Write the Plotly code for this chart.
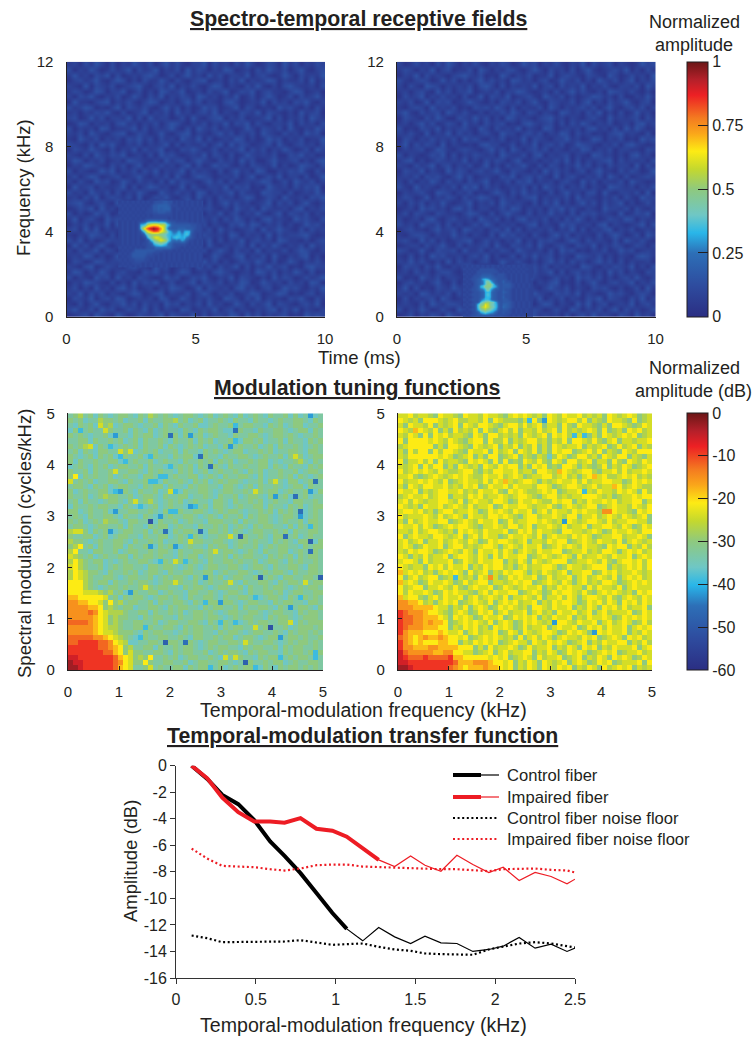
import plotly.graph_objects as go

W, H = 756, 1038
def X(p): return p / W
def Y(p): return 1 - p / H

INK = "#231f20"
FONT = "Liberation Sans"

JET = [[0, "#2b2e83"], [.12, "#2e4b9e"], [.25, "#2d6fb7"], [.33, "#29b6e9"], [.4, "#6fc7c5"],
       [.5, "#8ec97f"], [.58, "#c4d82e"], [.65, "#fdeb14"], [.72, "#faa61a"], [.78, "#f47b20"],
       [.87, "#ed2024"], [.93, "#b5202a"], [1, "#6b1616"]]

# ---- Spectro-temporal receptive fields: background, top row first, digit*0.03 = amplitude
strf_left_bg = [
"231425314132532413524213351423142531243152413243",
"413253124235142351324152431325412314253241352134",
"252314351412324531241352315241332513421253142325",
"134235213541314225314213451231425132354132241513",
"321514324123452134251324213541321425213145322314",
"243125413351241315423512314235124351342213541231",
"314352132412531425132431542313251241353124142352",
"152213451324213541231352413214531232514231435213",
"423541213514324213524131253412351431221534213142",
"231324352141235132415231342513214325143213152341",
"341252413325141523312415213451324122351413241532",
"125413231452313241354213241325143514213325142314",
"413231541223514132352141532413212531432415213253",
"324153213451243125213451321352413241532142315341",
"215324132314352414231532514123254131253413241225",
"432141535213241323514132241351524312341521342314",
"143253214132514235121435312413235142413253124153",
"321415324351231415342123251431412532324114352312",
"254132412315432131524413532142315241135223413145",
"132543214241351324231351412534213143225131254314",
"413212535132414251323514232141352315411324352142",
"241354123412352132415213543123241351242513314125",
"314215341253142314152432135241412323541241532413",
"152341322351413542312514213325143412153231424351",
"423153241413253115324231541323514221543314123252",
"231425134324151243521341523142313541243152231435",
"345213421531232415134253214135242312351424135213",
"124351523143415322413512434213153241532231451324",
"413125341232541351342415213251341325213514324132",
"251342153412325142314213532414253131452321534214",
"132413251543213241532351241321435254132413125342",
"341525132214531324213145324152312341523532141423",
"213254314153242135341221543231541323151423345212",
"425131243312415324153432125141325134231542213134",
"152413521354231241315243415213234151425313241523",
"314235143123541232514132241353142315132241354213",
"232541312541323515423124312531245132415213245131",
"143125423315241431232154352413124325314125313242",
"321451243214532153412331524142351413252341214533",
"254132531342214352313541231453212315424132531412",
"413215341523143212534124352132514321315243124235",
"132543214131524351241235143241325412532314231541",
"241315231452412313254312514323145231341253421325",
"325142413213541245132241353132412354123541213413",
"143251342541232315412531324215431425132214352142",
"214135213352414231534132415231253142351432134251",
"352241534124325141321541232513413213245142513213",
"123415321531243235143225141332541524132341215343",
]
strf_right_bg = [
"312423142531324213243125341324213251423413212534",
"243132513412241531324421353142314135212342513142",
"132514232134532412153132412251343214321531242315",
"421343125241313524231542313412532413153241351324",
"314215431323241453141323251341423251324213324153",
"231342152413351232413354212314135242131543242131",
"142351324231412514325123421532413123542314113252",
"324125143412353213143241352143224135131423521341",
"213431523241214342531413224153132342413521342413",
"352142341532421313242531431321542314251314125231",
"143214253114325241315423213452313213421523234142",
"231352412431523142341214532341414253132412314523",
"412143251323421531423251321541232314523141525312",
"324215132514231342153313424132541423121345232141",
"143132423241534213241225143213352312541324121534",
"251424315132121453312413251342412543213241453212",
"132341254213432135241531342413213254132413322143",
"413212435141324323153224145132341321542313145231",
"245131243232513142431351231324251413234514232314",
"321423513413241251314235214143132524131423315142",
"143251321524313423521432131524231341352214243125",
"232414342135241232143513424215134213241531412343",
"314132531423142351224143513231342152413224153212",
"421523213241535142312324141532413241321543231324",
"132342154313241213531425232141352314415213324151",
"243125132431423542142313451323241523213241421533",
"314241325212351324153232141425131352414235131242",
"123153423145241331242541323143524213215332414213",
"241432143221354214135321413252314143423215124351",
"312314521342231532413145232413142531312432541322",
"423153241413124253132312451321534223145132123514",
"134221352341542313425141323241325141324513241232",
"213443132252313214153423142135241322141353124153",
"342152413123451242313251314342135314232141532421",
"123314235214132341521432415213421432513243124313",
"431252143341522413243153223141534121324125341232",
"214131534223134251312414252341321543241313214542",
"325242131514231341253242131352414231352414132231",
"143314252132543213141325342413232154213243251314",
"231423134421352412534213142351413423131524132143",
"412153241332141543212431532124231534241313425213",
"134231352141324213543142313245121413521342351324",
"251412143253241324123531421353241321434213124152",
"323154232414135231412342153214342513212534213431",
"141323415312324142531321425132413214351432142513",
"232141532443121351324413213541321525134123251342",
"413253124215342132412351343124215313241351423124",
"124132431532413215341221542323141342523214315231",
]
# ---- fine patches round the hot spots; base-36 digit/35 = amplitude
spot_left_t0, spot_left_dt = 2.05, 0.1
spot_left_f0, spot_left_df = 2.4, 0.15
spot_left = [
"343434343434345556655343434343434",
"434343434343466777764443434343434",
"343434343434466767774344343434343",
"434343434344455666554343434343434",
"343434343434344444444343434343434",
"434343434344444444434343434343434",
"343434344569aaa9a9865544444343434",
"34343434bcekmnnmkkeb7666666655443",
"34343434ckquxzxuqkc76667776665443",
"343434345bhnqttrnkhca89b8bcb64443",
"3434343445bfhhhhgfdcbabcacda54343",
"34343434345dhkmljgecacdcbc9754343",
"343434343345cfikmkhc9898b96443434",
"3434343434456bdefdb87555554343434",
"434343434345558888886544343434343",
"343434666666665554444343434343434",
"434346666665544434343434343434343",
"343446666654443434343434343434343",
"434344555544343434343434343434343",
"343434444343434343434343434343434",
"434343434343434343434343434343434",
]
spot_right_t0, spot_right_dt = 2.6, 0.1
spot_right_f0, spot_right_df = 0.0, 0.12
spot_right = [
"3434343434343434343434343",
"4343435555554343434343434",
"3434355555555434343434343",
"4343455666654555434343434",
"3434556777765555434343434",
"4345567bcb87655553434343434",
"34345679dgd965575543434343",
"43435679dhhd86566654343434",
"343456bdhhhdb7566654343434",
"43455689cgc966565543434343",
"34345567bcb765576543434343",
"43455567bdb765565543434343",
"34345567bcb765575543434343",
"4345557acca765566543434343",
"343455bfgigfb7566654343434",
"43455cghmkgec8577654343434",
"34345chkmkhfc8587654343434",
"43455bfhjhfdb7566543434343",
"343456acecba75565543434343",
"4345566777665555543434343",
"3434555666655554343434343",
]

# ---- Modulation tuning functions: top row first, digit (base 36) * -3 = dB
mtf_left = [
"ba9bacabcbaabcab9ababcbaabcbacbabcacbabcabbacacbacb",
"abacbb9aabacbbacabbaa9bacbacbbabcabbcabbcbabbaabcab",
"bcabacaa9cbaabcbbacabcabbaccbabbadbaabbcabacbaacbba",
"cabbabb8abbacabcacbabbcabcabaabccbabbcabbaabcbaacab",
"ababcbbacabbcabaacbabacabbacbabbcabbaabcbaababcbbab",
"bbaacabbabacbacabbabcabbacabacbbadcaabacbbacabbcaba",
"aba9bcabacbabacabbacabcbabacbbcaebabbacbacabbabcbab",
"bacabcaabb8abcbabacbbacabbcababcbaacbbabacbbaabcaab",
"abcbacabacbabbacdabbcabaacbabbcabbaabcbabbacabacbaa",
"acabbabbaacdbabbacbabbcabbabacabacbbabaacbcbba9bcab",
"cbabcabacbaabbacabbcdbabacabbabcabbabbaacabcabbcaba",
"abbacabbacbbaabcababbcabacbacbabbabcabacbbabbacbaab",
"abcababbacbabbcaabacbabbaacbabcabbaabcacbbabacabcba",
"8babacbbaabcabbaddcabbabcabacbabaabcbbacabbcaacbaab",
"baabcabacbaabbcabaacabbcabaabbcaabcbacabbabcbaacabb",
"acbabbaacdbabcabbacbadcabbaabcbaabbabcabaacbabbabca",
"abbacba9aabbacbaabcabbaacbbabcabbacbaabcabbacabacbb",
"bacabbcbaabcaaba9bcbabacbabbcaabcabbabacbabbcaabbab",
"cabbabaabbcabcdcbacbabbcadbacaabcbabbaacabbcabacbaa",
"aacbabbacabbaabbabcabdabbaabcbabaabcbbabacababacbab",
"babcabbaabcabbcabcdbabbaabcbabcabbacabaabcbaabbcbab",
"abacbab9aabcaabbacabbacbabbcaaabbacabbaabcbabbacaab",
"baabcbaabbacabbcabaacbabbcabbabacbabcabaabbcacabbab",
"98bacabadcbaabbacabbcabaabbcaabacabcbaabbabacabbaab",
"abbaacbacbaabbcabbaacbabaabcbbaabbcabbabcaabbacbabb",
"9aabcbabbaabcabbabacbbabcaabbaabcbaababbcababcaabca",
"a97bacabbaacabbabcabaacbabbcabaacbabbacbabaabbcabaab",
"97bbcaabbacbaabbabaabcabbaabacbaabcbabcabbaacbabbab",
"89abacbabbaacabaababbcabaacbabbacabaabbcababacabaab",
"979abaacbcbabbaabcbabaacbabcabbaababbacbaabcababbab",
"879abbacbabaabbcaabaabcbabcbaabbaabcbaabcabbaabcaab",
"9789aabcabbabacbaabcabbaabbaacbabbaabcbabaabcabbaab",
"9789abbaabcbaabbacbabaabcabbabacbaabbacbabcaabbaabc",
"7779abaacabbabaabcbaababbacbabbaabcabbaabcabaabcbaa",
"7779abcbaababbacabaabbcabaabcbaabbacabbabaabcbabaab",
"7778889a9bacbabbaacbabbcaabbabcbaabcabbaabacbaabba",
"66777778bacabaabcbaababcabbaabcabbaabbcbaabcabaabab",
"5566778a7a9baabbacabbaabcabbaabaabcbaabbcabaabbcaab",
"5555667a9abaacbbaabcabaabbcabaabbacabbaabcababaabca",
"55554578999abbaacabbabacbaababcbaabbaabcbaabbcabaab",
"55555678a9aabbcabaabbcabbaabaabcbabaabbcabaabcbaaab",
"44445678a9abbaabbacbaabbaabcabaabbcbabaabbaabcabaaa",
"5555567899abbaacabbaabcabaabbacabaabbcbaabbacbaaaba",
"5555567889aaabcabaabbcbabaabbcabaabcbaabbabcabaabab",
"44444556789abcaabbaabbabcaabbabaacbaabcbaabbaababba",
"443333445789ccbbaabcaabbabcbaabbaabcabbaabcbabaabab",
"33333344567a9bbaacabbabaabcbabaabbcabaabbacabaabbab",
"33333334467a8aabbaabcabaabbacbabaabcabaabbcabaababa",
"2233333334678a9aabbabacbaabbabcabaabbcabaabbabaabab",
"1223333334578aa7abbaabbacbaabbaabcbaabbabaacbabbaab",
"1123333334678bba8babbaacabaabbacbabaabcabcabaababab",
]
mtf_right = [
"8879889a7889a78897889a8787898a78978879898a789878a98",
"7898a7778987998897a78999a8d7a978987797a89a7889a7a98",
"8a78897a8987a7897789a87797987a88a79a7889a8a7789a978",
"78967897a8a79897a79a8797a8897987a7989878a7a98a78798",
"8978a7a7879889a78a779898a78987a7879d87a8a7898787a98",
"7a77778789789a877a7997a8987798a897a778979a87a889887",
"9877777a8a7789a78987a897a897a8a789887a8987a97987a89",
"8a7977a797789a7887a7987a7897a8a7877a98797a89a789777",
"89777777878a987a8a77a987a89a89c978a97798a78977a89a8",
"7a88797a79889a7878a7a7a9a78979a78a77987a88a79a78978",
"8987a7977a8a7898a7897877a8a787a9a778a89a97a8978a987",
"7987878978998779a8977887988a778967898779a8879798878",
"8879a98789878789978879878a9887798798a87687998787989",
"7988787897a98788979786898778a8987887979887788a97878",
"8a78977887989787a97887978889778a98778987988679878997",
"7887a8987788798978879a7878998787a988778978897878a79",
"9878879877a88978798878987789a87798988777898a9887877",
"8797898877897a87889778a978878997877a8978878798877a8",
"7898a78879878979887a978877898879a8789877a9878897897",
"8778798a87798878a9787897887a87978897878897a7889a787",
"7988878979878a7889778789a87798878977a8879878978987a",
"8a79878877a987897887a979887787898a7898778979887788a",
"7887978a98787789a8878977987a8878979887a88778978a978",
"88979877898a7878978887a978797889a77889878a978878977",
"7a87889778987a879788a97887897a878897878a9887798878a",
"87987a8879878978a978778987a8897877a9878978897a87898",
"878a97887a8779898778a87897887a98787897889a7877a8979",
"8978778a9878978a7887978a878978877a9887989778a878798",
"78a8979887a8778978a7978877a98789878a79887897887a878",
"8778a798887a978978877a8978a7898777a98878979a8778797",
"78988a78797887a89787798a87988778a978898777a89878797",
"6878798a87878a7987a8978778a8978987a8877a97879887898",
"7a879877a987898a7878a9787887a979887a87987897a878798",
"6878a978878a979877a88987877a9878978a87989778a987878",
"79877a8878979a87887a978987887a8978788a7978897a87888",
"7978878a9787889a87978877a9878a978778979a8787898a787",
"68779a8797887a87987897a887897a887978a8778979a878978",
"5566798a8787a987897a87879887a8978778a9787978a787978",
"5556666788a897a878a9787898a77897887a8978a787979887a",
"3455567789a878a9787a879887a8798a7887987a8798887a978",
"3445566678a7878a97887a978787a897887a8978878a9787878",
"3445565667a98787897a878a9787898a77897887a879878a979",
"3455566677a8978798a7878a979887a87887a978797887a8787",
"3566677767887a879887a978a7898778a97878a9787887a8978",
"45676566567787a98787898a7a87978a87889787a9878a78798",
"356767776677a8978787a98788a7897878a987a8978877a8979",
"355666556666777a8a798878a979887a8978a787a8978887a87",
"245555566557788a987a8798877a8978a97878a98787a988798",
"2344434444366777778787a9878a79887a987a8978a7878a978",
"22333333333466655567787a8978a78987a878a9787a98887a7",
"11233333334567666566787a8978a789787a8978a798787a898",
]
# individually visible outlier cells: (column, row from top, code)
mtf_left_outliers = [(9,4,"e"),(20,4,"f"),(24,4,"e"),(26,8,"f"),(28,10,"f"),(16,21,"h"),(19,23,"f"),(26,23,"f"),
    (34,24,"g"),(43,24,"f"),(48,25,"g"),(48,27,"f"),(38,32,"g"),(50,32,"g"),(40,42,"h"),(19,45,"g"),(23,45,"f"),
    (35,49,"g"),(33,3,"f"),(32,6,"e"),(45,16,"f"),(46,19,"f"),(46,20,"e"),(48,15,"e"),(41,16,"e"),(49,13,"f"),
    (48,0,"e"),(12,35,"e"),(30,37,"e"),(42,44,"e"),(44,38,"e"),(27,32,"e"),(16,26,"e"),(21,26,"e"),(8,23,"e"),
    (24,18,"e"),(9,19,"e"),(18,20,"e"),(10,15,"e"),
    (6,2,"8"),(1,12,"7"),(12,7,"8"),(45,8,"8"),(20,15,"8"),(13,17,"8"),(32,33,"8"),(47,33,"8"),(41,13,"8"),(37,15,"8"),
    (16,48,"7"),(12,48,"8"),(33,48,"8"),(31,48,"8"),(35,45,"8"),(24,25,"8"),(21,29,"8"),(29,27,"8"),(9,11,"8"),(4,6,"8"),
    (44,41,"8"),(21,33,"8"),(32,24,"8"),(15,34,"8"),(2,23,"8"),(37,42,"8"),
    (8,6,"d"),(10,8,"d"),(18,12,"d"),(19,12,"d"),(2,3,"d"),(20,19,"d"),(24,24,"d"),(18,29,"d"),(23,29,"d"),(15,42,"d"),
    (14,44,"d"),(27,37,"d"),(37,36,"d"),(49,47,"d"),(49,48,"d"),(37,50,"d"),(28,50,"d"),(42,48,"d"),(33,41,"d"),(30,41,"d"),
    (46,36,"d"),(48,22,"d")]
mtf_right_outliers = [(31,41,"e"),(39,43,"e"),(33,21,"e"),(29,1,"e"),(37,15,"d"),(37,4,"d"),(11,32,"d"),(41,19,"5"),(42,19,"5"),(18,32,"5")]
MTF_N = 51

# ---- Temporal-modulation transfer function
freq_khz = [.098,.196,.29,.39,.49,.59,.68,.78,.88,.98,1.07,1.17,1.27,1.37,1.47,1.56,1.66,1.76,1.86,1.96,2.05,2.15,2.25,2.35,2.45,2.5]
control_fiber = [0,-1.0,-2.2,-2.9,-4.1,-5.7,-6.8,-8.1,-9.6,-11.1,-12.3,-13.2,-12.2,-12.9,-13.4,-12.85,-13.35,-13.4,-14.0,-13.85,-13.6,-12.95,-13.75,-13.45,-14.0,-13.75]
impaired_fiber = [0,-.95,-2.4,-3.5,-4.2,-4.2,-4.3,-3.95,-4.75,-4.9,-5.35,-6.2,-7.1,-7.6,-6.8,-7.5,-7.95,-6.75,-7.45,-8.05,-7.65,-8.65,-8.05,-8.35,-8.9,-8.55]
control_noise = [-12.8,-13.0,-13.3,-13.3,-13.25,-13.25,-13.25,-13.15,-13.35,-13.5,-13.45,-13.4,-13.65,-13.85,-13.95,-14.15,-14.2,-14.2,-14.25,-13.85,-13.65,-13.4,-13.3,-13.4,-13.6,-13.7]
impaired_noise = [-6.25,-7.0,-7.55,-7.6,-7.65,-7.8,-7.9,-7.75,-7.5,-7.45,-7.45,-7.6,-7.65,-7.65,-7.7,-7.8,-7.8,-7.8,-7.9,-7.95,-7.8,-7.75,-7.75,-7.85,-7.9,-8.05]
control_thick_n = 11
impaired_thick_n = 13
legend_labels = ["Control fiber", "Impaired fiber", "Control fiber noise floor", "Impaired fiber noise floor"]

cbar_amp_vals = [0, .25, .5, .75, 1]
cbar_amp_text = ["0", "0.25", "0.5", "0.75", "1"]
cbar_db_vals = [-60, -50, -40, -30, -20, -10, 0]
cbar_db_text = ["-60", "-50", "-40", "-30", "-20", "-10", "0"]
amp_y_ticks = [-16,-14,-12,-10,-8,-6,-4,-2,0]
amp_x_ticks = [0,.5,1,1.5,2,2.5]


def digits(rows, scale):
    return [[int(c, 36) * scale for c in r[:48]] for r in reversed(rows)]

def mtf_grid(rows, outliers):
    clean = [r[:MTF_N].ljust(MTF_N, "a") for r in rows]
    grid = [[int(c, 36) * -3 for c in r] for r in clean]
    for col, row, code in outliers:
        grid[row][col] = int(code, 36) * -3
    return grid[::-1]

def patch(rows):
    n = max(len(r) for r in rows)
    return [[int(c, 36) / 35 for c in r.ljust(n, "3")] for r in reversed(rows)]

def cbar(vals, text, py0, py1):
    return dict(x=X(686.5), xanchor="left", y=Y(py1), yanchor="bottom", len=(py1 - py0) / H, lenmode="fraction",
                thickness=21, thicknessmode="pixels", xpad=0, ypad=0, outlinecolor=INK, outlinewidth=1,
                ticks="inside", ticklen=10, tickwidth=1.2, tickcolor=INK, tickvals=vals, ticktext=text,
                tickprefix="\u00a0\u00a0\u00a0", tickfont=dict(family=FONT, size=16, color=INK))

fig = go.Figure()
bg_dt, bg_df = 10 / 48, 12 / 48
fig.add_trace(go.Heatmap(z=digits(strf_left_bg, .03), x0=bg_dt/2, dx=bg_dt, y0=bg_df/2, dy=bg_df, zmin=0, zmax=1, colorscale=JET,
                         zsmooth="best", xaxis="x", yaxis="y", colorbar=cbar(cbar_amp_vals, cbar_amp_text, 61.7, 316.7)))
fig.add_trace(go.Heatmap(z=patch(spot_left), x0=spot_left_t0, dx=spot_left_dt, y0=spot_left_f0, dy=spot_left_df, zmin=0, zmax=1,
                         colorscale=JET, zsmooth="best", showscale=False, xaxis="x", yaxis="y"))
fig.add_trace(go.Heatmap(z=digits(strf_right_bg, .03), x0=bg_dt/2, dx=bg_dt, y0=bg_df/2, dy=bg_df, zmin=0, zmax=1, colorscale=JET,
                         zsmooth="best", showscale=False, xaxis="x2", yaxis="y2"))
fig.add_trace(go.Heatmap(z=patch(spot_right), x0=spot_right_t0, dx=spot_right_dt, y0=spot_right_f0, dy=spot_right_df, zmin=0, zmax=1,
                         colorscale=JET, zsmooth="best", showscale=False, xaxis="x2", yaxis="y2"))
dm = 5 / MTF_N
fig.add_trace(go.Heatmap(z=mtf_grid(mtf_left, mtf_left_outliers), x0=dm/2, dx=dm, y0=dm/2, dy=dm, zmin=-60, zmax=0, colorscale=JET,
                         xaxis="x3", yaxis="y3", colorbar=cbar(cbar_db_vals, cbar_db_text, 413.3, 670)))
fig.add_trace(go.Heatmap(z=mtf_grid(mtf_right, mtf_right_outliers), x0=dm/2, dx=dm, y0=dm/2, dy=dm, zmin=-60, zmax=0, colorscale=JET,
                         showscale=False, xaxis="x4", yaxis="y4"))

RED, BLACK = "#ed1c24", "#000000"
DOT = "2px,2.6px"
def line(x, y, name, color, width, dash=None):
    fig.add_trace(go.Scatter(x=x, y=y, mode="lines", name=name, showlegend=False,
                             line=dict(color=color, width=width, dash=dash), xaxis="x5", yaxis="y5"))
line(freq_khz, control_fiber, legend_labels[0], BLACK, 1.2)
line(freq_khz[:control_thick_n], control_fiber[:control_thick_n], legend_labels[0], BLACK, 4)
line(freq_khz, impaired_fiber, legend_labels[1], RED, 1.2)
line(freq_khz[:impaired_thick_n], impaired_fiber[:impaired_thick_n], legend_labels[1], RED, 4)
line(freq_khz, control_noise, legend_labels[2], BLACK, 2.2, DOT)
line(freq_khz, impaired_noise, legend_labels[3], RED, 2.2, DOT)

def img_axis(px0, px1, rng, ticks, anchor, standoff):
    return dict(domain=[px0, px1], range=rng, tickvals=ticks, ticks="inside", ticklen=4, tickwidth=1.2, tickcolor=INK,
                showline=True, linecolor=INK, linewidth=1.2, showgrid=False, zeroline=False, anchor=anchor, automargin=False,
                ticklabelstandoff=standoff, tickfont=dict(family=FONT, size=15, color=INK), layer="above traces")

def seg(x0, x1, py, color, width, dash=None):
    return dict(type="line", xref="paper", yref="paper", x0=X(x0), x1=X(x1), y0=Y(py), y1=Y(py), line=dict(color=color, width=width, dash=dash))

lay = dict(
    width=W, height=H, autosize=False, margin=dict(l=0, r=0, t=0, b=0, autoexpand=False), paper_bgcolor="white", plot_bgcolor="white",
    font=dict(family=FONT, color=INK), showlegend=False,
    xaxis=img_axis(X(66.5), X(325), [0, 10], [0, 5, 10], "y", 8),
    yaxis=img_axis(Y(317), Y(61.7), [0, 12], [0, 4, 8, 12], "x", 9),
    xaxis2=img_axis(X(397), X(655.5), [0, 10], [0, 5, 10], "y2", 8),
    yaxis2=img_axis(Y(317), Y(61.7), [0, 12], [0, 4, 8, 12], "x2", 9),
    xaxis3=img_axis(X(68), X(323), [0, 5], [0, 1, 2, 3, 4, 5], "y3", 8),
    yaxis3=img_axis(Y(670), Y(413.3), [0, 5], [0, 1, 2, 3, 4, 5], "x3", 9),
    xaxis4=img_axis(X(398), X(652), [0, 5], [0, 1, 2, 3, 4, 5], "y4", 8),
    yaxis4=img_axis(Y(670), Y(413.3), [0, 5], [0, 1, 2, 3, 4, 5], "x4", 9),
    xaxis5=dict(domain=[X(176), X(575)], range=[0, 2.5], tickvals=amp_x_ticks, ticktext=[str(v) if v % 1 else str(int(v)) for v in amp_x_ticks],
                ticks="outside", ticklen=5, tickwidth=1, tickcolor="#333", showline=True, linecolor="#333", linewidth=1, automargin=False,
                showgrid=False, zeroline=False, anchor="y5", ticklabelstandoff=2, tickfont=dict(family=FONT, size=16, color=INK)),
    yaxis5=dict(domain=[Y(978), Y(765.7)], range=[-16, 0], tickvals=amp_y_ticks, ticktext=[str(v) for v in amp_y_ticks],
                ticks="outside", ticklen=5, tickwidth=1, tickcolor="#333", showline=True, linecolor="#333", linewidth=1, automargin=False,
                showgrid=False, zeroline=False, anchor="x5", tickfont=dict(family=FONT, size=16, color=INK)),
    shapes=[seg(453, 481, 775, BLACK, 4), seg(481, 499, 775, BLACK, 1.2),
            seg(453, 481, 797, RED, 4), seg(481, 499, 797, RED, 1.2),
            seg(453, 499, 818, BLACK, 2.2, DOT), seg(453, 499, 839, RED, 2.2, DOT)],
)

def note(text, px, py, size=19, angle=0, anchor="center"):
    return dict(text=text, x=X(px), y=Y(py), xref="paper", yref="paper", xanchor=anchor, yanchor="middle", showarrow=False,
                textangle=angle, font=dict(family=FONT, size=size, color=INK))

lay["annotations"] = [
    note("<b><u>Spectro-temporal receptive fields</u></b>", 358, 19, 21.3),
    note("<b><u>Modulation tuning functions</u></b>", 357, 388, 21.3),
    note("<b><u>Temporal-modulation transfer function</u></b>", 362, 736, 21.3),
    note("Normalized", 694, 22, 18), note("amplitude", 694, 45, 18),
    note("Normalized", 694, 368, 18), note("amplitude (dB)", 693, 391, 18),
    note("Time (ms)", 359, 357, 18.5),
    note("Temporal-modulation frequency (kHz)", 363, 710, 19.6),
    note("Temporal-modulation frequency (kHz)", 363, 1025, 19.6),
    note("Frequency (kHz)", 24, 188, 18.5, -90),
    note("Spectral modulation (cycles/kHz)", 24, 544, 18.5, -90),
    note("Amplitude (dB)", 130, 861, 18.5, -90),
]
for label, py in zip(legend_labels, [775, 797, 818, 839]):
    lay["annotations"].append(note(label, 505, py, 16.6, anchor="left"))
fig.update_layout(**lay)
fig.write_html("out.html", config=dict(displayModeBar=False, responsive=False),
               post_script="document.body.style.margin='0';document.documentElement.style.overflow='hidden';")
